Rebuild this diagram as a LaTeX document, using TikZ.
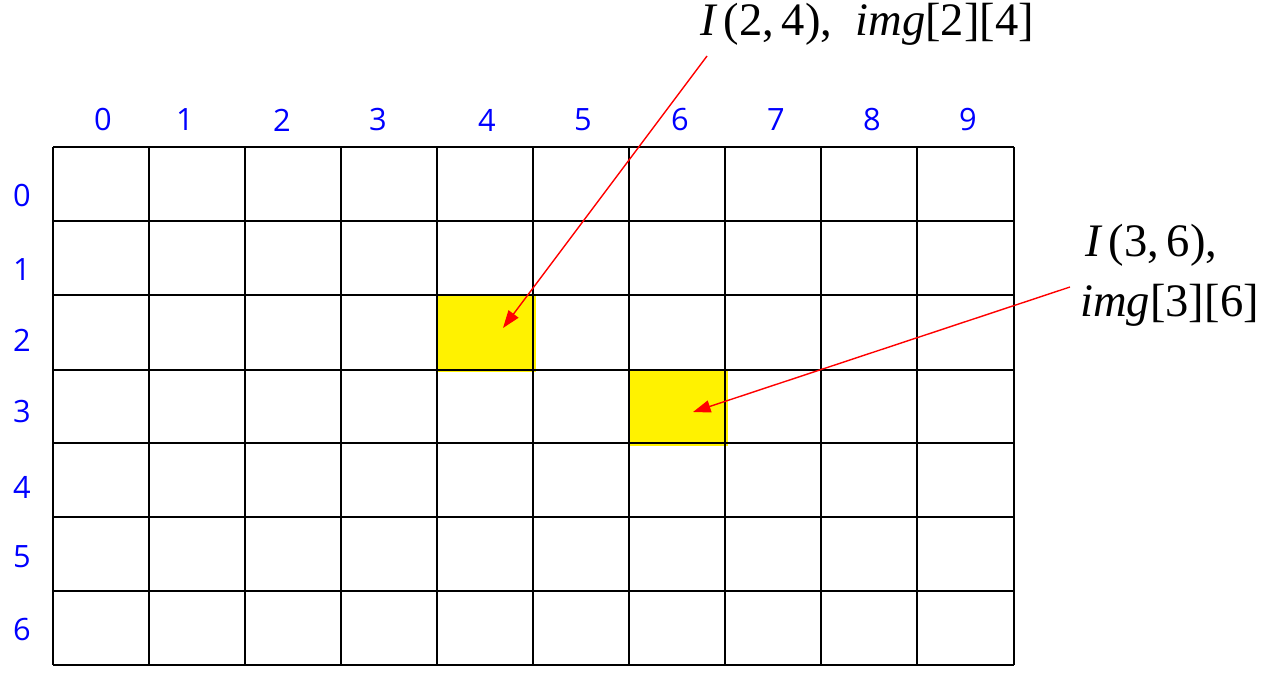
\documentclass[tikz,border=0pt]{standalone}
\usepackage{fontspec}
\setmainfont{Liberation Serif}
\newfontfamily\numfont{Open Sans}
\usetikzlibrary{arrows.meta}
\begin{document}
\begin{tikzpicture}[x=0.02cm,y=-0.02cm,
  gridline/.style={line width=1.1pt,black},
  hl/.style={fill=yellow,draw=none},
  idx/.style={text=blue,font=\numfont\fontsize{17.5}{20}\selectfont,inner sep=0pt},
  lbl/.style={font=\fontsize{26.5}{30}\selectfont,inner sep=0pt},
  ptr/.style={red,line width=0.8pt,-{Triangle[length=10pt,width=7pt]}}]
\useasboundingbox (0,0) rectangle (1270,679);
% highlighted cells
\fill[hl] (437,294) rectangle (536,372);
\fill[hl] (629,370) rectangle (728,446);
% grid
\foreach \x in {53,149,245,341,437,533,629,725,821,917,1014}
  \draw[gridline] (\x,147) -- (\x,665);
\foreach \y in {147,221,295,370,443,517,591,665}
  \draw[gridline] (53,\y) -- (1014,\y);
% column indices
\foreach \x/\t in {103/0,185/1,282/2,378/3,487/4,583/5,680/6,776/7,872/8,968/9}
  \node[idx] (c\t) at (\x,120) {\t};
% row indices
\foreach \y/\t in {196/0,270/1,340/2,412/3,487/4,557/5,630/6}
  \node[idx] (r\t) at (22,\y) {\t};
% labels
\node[lbl,anchor=west] (la) at (700,24) {{\itshape I}\,(2,\,4),\ \ {\itshape img}[2][4]};
\node[lbl,anchor=west] (lb1) at (1085,245) {{\itshape I}\,(3,\,6),};
\node[lbl,anchor=west] (lb2) at (1080,305) {{\itshape img}[3][6]};
\coordinate (sa) at (707,56);
\coordinate (ta) at (503,328);
\coordinate (sb) at (1070,287);
\coordinate (tb) at (693,412);
\draw[ptr] (sa) -- (ta);
\draw[ptr] (sb) -- (tb);
\end{tikzpicture}
\end{document}
